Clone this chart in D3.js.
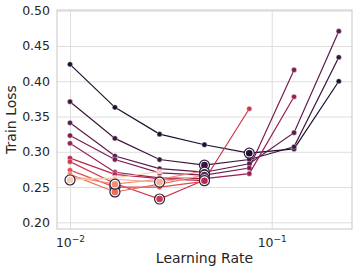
<!DOCTYPE html>
<html>
<script src='https://d3js.org/d3.v7.min.js'></script>
<style>
  body {margin: 0; background: white;}
  text {font-family: 'DejaVu Sans', sans-serif; fill: #262626;}
</style>
<body onload='init()'>
<svg width=357 height=271></svg>
<script>
// learning rates on the x axis
var lrs = [0.01, 0.0167, 0.0278, 0.0464, 0.0774, 0.129, 0.215];
// train loss per run (darkest to lightest), null where the run is missing
var run0  = [0.424, 0.363, 0.325, 0.310, 0.298, 0.304, 0.400];
var run1  = [0.371, 0.319, 0.289, 0.281, 0.289, 0.307, 0.434];
var run2  = [0.341, 0.294, 0.276, 0.271, 0.283, 0.327, 0.471];
var run3  = [0.323, 0.289, 0.270, 0.267, 0.277, 0.416, null];
var run4  = [0.312, 0.271, 0.263, 0.262, 0.269, 0.378, null];
var run5  = [0.291, 0.268, 0.262, 0.259, null, null, null];
var run6  = [0.286, 0.255, 0.233, 0.260, 0.361, null, null];
var run7  = [0.274, 0.250, 0.250, 0.258, null, null, null];
var run8  = [0.268, 0.243, 0.254, 0.267, null, null, null];
var run9  = [0.265, 0.254, 0.261, 0.273, null, null, null];
var run10 = [0.263, 0.261, 0.257, 0.266, null, null, null];
var run11 = [0.260, 0.263, 0.272, null, null, null, null];
var runs = [run0, run1, run2, run3, run4, run5, run6, run7, run8, run9, run10, run11];
var yTicks = [0.20, 0.25, 0.30, 0.35, 0.40, 0.45, 0.50];
var xTicks = [0.01, 0.1];

function init() {
  var svg = d3.select('svg');
  var L = 57, R = 352, T = 10, B = 229;
  var x = d3.scaleLog().domain([0.00862, 0.25]).range([L, R]);
  var y = d3.scaleLinear().domain([0.1905, 0.501]).range([B, T]);
  var rocket = d3.interpolateRgbBasis(['#03051a', '#4c1d4b', '#a11a5b', '#e83f3f', '#f69c73', '#faebdd']);
  var color = function(i) { return rocket((i + 1) / (runs.length + 1)); };

  // grid
  var gy = svg.append('g').attr('transform', 'translate(' + L + ',0)')
    .call(d3.axisLeft(y).tickValues(yTicks).tickSize(-(R - L)).tickPadding(7).tickFormat(d3.format('.2f')));
  var gx = svg.append('g').attr('transform', 'translate(0,' + B + ')')
    .call(d3.axisBottom(x).tickValues(xTicks).tickSize(-(B - T)).tickPadding(9).tickFormat(function(){ return ''; }));
  [gx, gy].forEach(function(g) {
    g.select('.domain').remove();
    g.selectAll('line').attr('stroke', '#dedede').attr('stroke-width', 1);
    g.selectAll('text').attr('font-size', 12.5).attr('fill', '#262626');
  });
  gx.selectAll('.tick text').each(function(d) {
    var t = d3.select(this);
    t.append('tspan').text('10');
    t.append('tspan').attr('dy', -5).attr('font-size', 9).text('\u2212' + Math.round(-Math.log10(d)));
  });
  svg.append('rect').attr('x', L).attr('y', T).attr('width', R - L).attr('height', B - T)
    .attr('fill', 'none').attr('stroke', '#d0d0d0').attr('stroke-width', 1.2);

  var line = d3.line().defined(function(d){ return d[1] != null; })
    .x(function(d){ return x(d[0]); }).y(function(d){ return y(d[1]); });

  runs.forEach(function(vals, i) {
    var pts = lrs.map(function(lr, j){ return [lr, vals[j]]; });
    var g = svg.append('g');
    g.append('path').datum(pts).attr('d', line).attr('fill', 'none')
      .attr('stroke', color(i)).attr('stroke-width', 1.2);
    g.selectAll('circle').data(pts.filter(function(d){ return d[1] != null; })).enter()
      .append('circle').attr('cx', function(d){ return x(d[0]); }).attr('cy', function(d){ return y(d[1]); })
      .attr('r', 2.6).attr('fill', color(i)).attr('stroke', 'white').attr('stroke-width', 0.4);
  });

  // best learning rate of each run
  runs.forEach(function(vals, i) {
    var best = d3.minIndex(vals, function(v){ return v == null ? Infinity : v; });
    var cx = x(lrs[best]), cy = y(vals[best]);
    svg.append('circle').attr('cx', cx).attr('cy', cy).attr('r', 5)
      .attr('fill', 'white').attr('stroke', '#2e1f40').attr('stroke-width', 1.2);
    svg.append('circle').attr('cx', cx).attr('cy', cy).attr('r', 3.3).attr('fill', color(i));
  });

  svg.append('text').attr('x', (L + R) / 2).attr('y', 263).attr('text-anchor', 'middle')
    .attr('font-size', 14).text('Learning Rate');
  svg.append('text').attr('transform', 'translate(16,' + (T + B) / 2 + ') rotate(-90)')
    .attr('text-anchor', 'middle').attr('font-size', 14).text('Train Loss');
}
</script>
</body>
</html>
